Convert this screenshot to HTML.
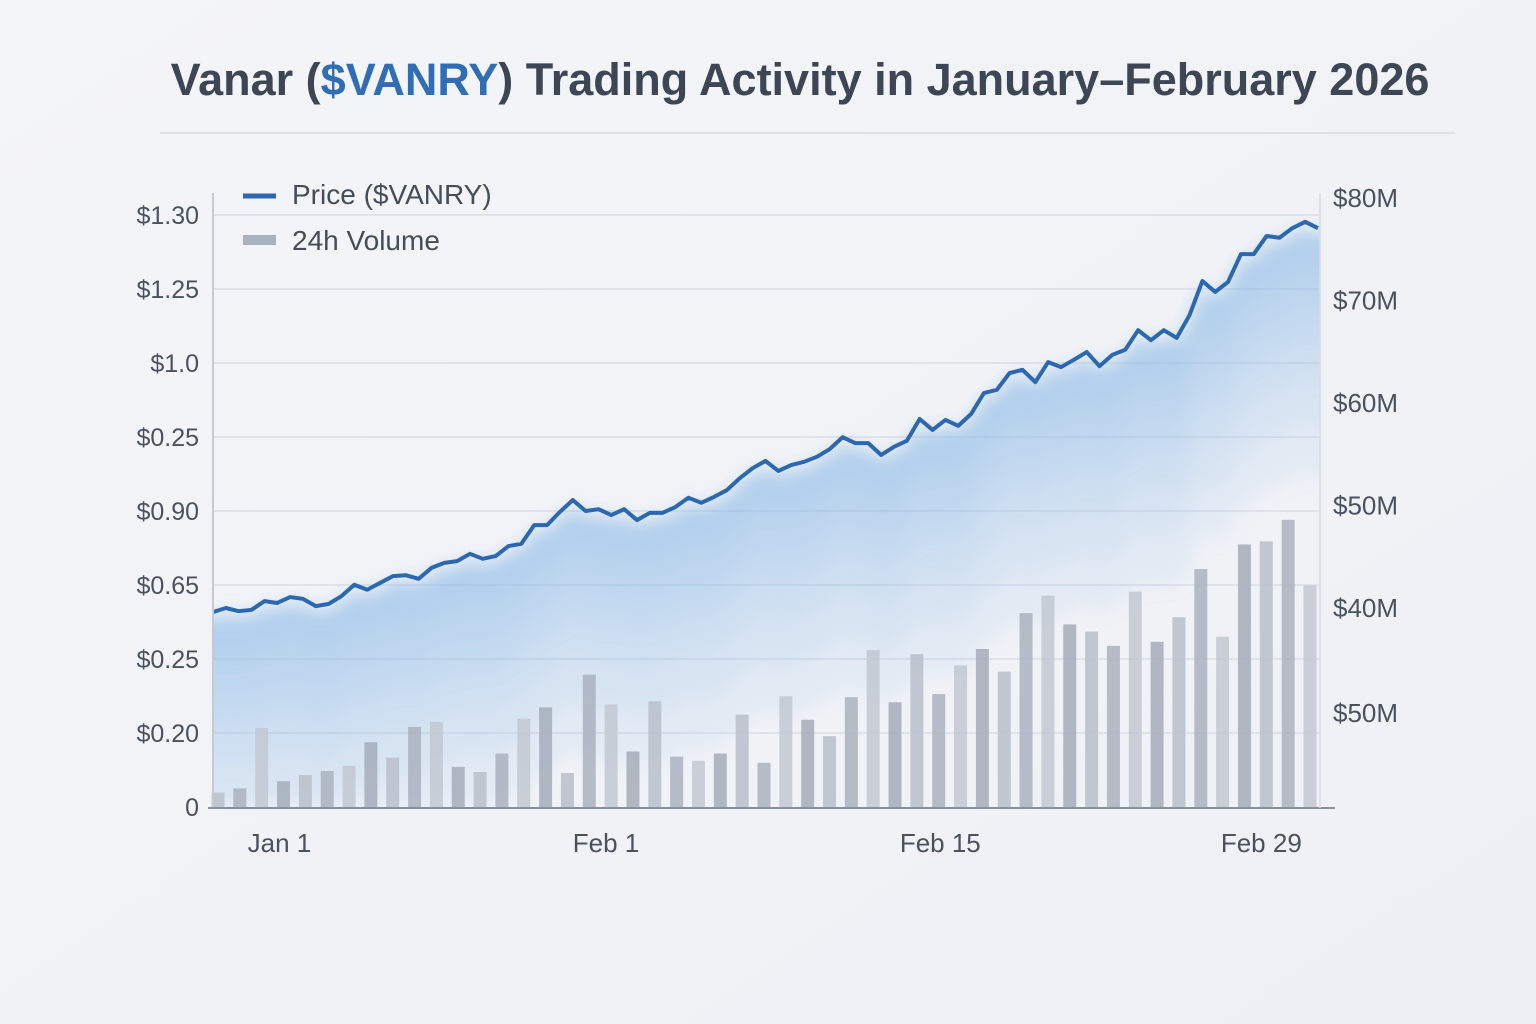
<!DOCTYPE html>
<html><head><meta charset="utf-8">
<style>
html,body{margin:0;padding:0;}
body{width:1536px;height:1024px;background:#f5f6f9;font-family:"Liberation Sans",sans-serif;overflow:hidden;}
svg{display:block;}
</style></head>
<body>
<svg id="chart" width="1536" height="1024" viewBox="0 0 1536 1024">
<defs>
<linearGradient id="bgGrad" x1="0" y1="0" x2="1" y2="1">
<stop offset="0" stop-color="#f4f5f8"/><stop offset="1" stop-color="#eef0f5"/>
</linearGradient>
<filter id="soft" x="-5%" y="-5%" width="110%" height="110%"><feGaussianBlur stdDeviation="9"/></filter>
<clipPath id="plotClip"><rect x="213" y="150" width="1107" height="658"/></clipPath>
</defs>
<rect x="0" y="0" width="1536" height="1024" fill="url(#bgGrad)"/>
<text x="800" y="95" text-anchor="middle" font-size="45" font-weight="bold" fill="#3d4654">Vanar (<tspan fill="#2f6db5">$VANRY</tspan>) Trading Activity in January–February 2026</text>
<line x1="160" y1="133" x2="1455" y2="133" stroke="#dde1e8" stroke-width="2"/>
<g id="grid"></g>
<g clip-path="url(#plotClip)"><g id="area" filter="url(#soft)"></g></g>
<g id="bars"></g>
<g id="line"></g>
<g id="axes"></g>
<g>
<line x1="243" y1="196" x2="276" y2="196" stroke="#2c68b0" stroke-width="5"/>
<text x="292" y="204" font-size="28" fill="#454d5a">Price ($VANRY)</text>
<rect x="243" y="235" width="33" height="10" fill="#aab2bf"/>
<text x="292" y="250" font-size="28" fill="#454d5a">24h Volume</text>
</g>
</svg>
<script>
const priceValues=[.428,.437,.430,.433,.452,.448,.461,.457,.441,.446,.463,.488,.477,.492,.507,.509,.501,.525,.536,.540,.556,.545,.551,.573,.578,.619,.619,.648,.674,.650,.654,.641,.654,.630,.646,.646,.659,.679,.668,.681,.696,.722,.744,.760,.738,.751,.758,.769,.786,.812,.799,.799,.773,.791,.804,.852,.828,.850,.837,.863,.909,.916,.953,.960,.933,.977,.966,.982,.999,.968,.993,1.004,1.047,1.025,1.047,1.030,1.080,1.155,1.131,1.153,1.214,1.214,1.254,1.250,1.271,1.285,1.271];
const volumeValues=[22.0,22.4,28.3,23.1,23.7,24.1,24.6,26.9,25.4,28.4,28.9,24.5,24.0,25.8,29.2,30.3,23.9,33.5,30.6,26.0,30.9,25.5,25.1,25.8,29.6,24.9,31.4,29.1,27.5,31.3,35.9,30.8,35.5,31.6,34.4,36.0,33.8,39.5,41.2,38.4,37.7,36.3,41.6,36.7,39.1,43.8,37.2,46.2,46.5,48.6,42.2];
const leftTickLabels=["0","$0.20","$0.25","$0.65","$0.90","$0.25","$1.0","$1.25","$1.30"];
const rightTickValues=[50,40,50,60,70,80];
const rightTickLabels=["$50M","$40M","$50M","$60M","$70M","$80M"];
const xTickLabels=["Jan 1","Feb 1","Feb 15","Feb 29"];
const xTickFractions=[0.06,0.355,0.657,0.947];

const NS="http://www.w3.org/2000/svg";
const X0=213,X1=1318,YB=807,YT=215;
function yPrice(v){return YB-(v/1.30)*(YB-YT);}
function xPrice(i){return X0+i*(X1-X0)/(priceValues.length-1);}
function yVol(v){return 198+(80-v)*10.25;}
function xBar(i){return 218+i*(1310-218)/(volumeValues.length-1);}
function mk(tag,attrs,parent){const e=document.createElementNS(NS,tag);for(const k in attrs)e.setAttribute(k,attrs[k]);parent.appendChild(e);return e;}
const grid=document.getElementById('grid'),axes=document.getElementById('axes');
leftTickLabels.forEach((t,i)=>{
  const y=YB-i*(YB-YT)/(leftTickLabels.length-1);
  if(i>0){const g=mk('line',{x1:X0,y1:y,x2:1320,y2:y,stroke:'#dadee6','stroke-width':1.5},grid);
  
  }
  const tx=mk('text',{x:199,y:y+9,'text-anchor':'end','font-size':25,fill:'#4a5260'},axes);
  tx.textContent=t;
  
  
});
rightTickValues.forEach((v,i)=>{
  const y=i===0?713:yVol(v);
  const tx=mk('text',{x:1333,y:y+9,'font-size':26,fill:'#4a5260'},axes);
  tx.textContent=rightTickLabels[i];
  
  
});
xTickLabels.forEach((t,i)=>{
  const x=X0+xTickFractions[i]*(1320-X0);
  const tx=mk('text',{x:x,y:852,'text-anchor':'middle','font-size':26,fill:'#4a5260'},axes);
  tx.textContent=t;
  
  
});
// area: stacked bands fading downward from the line, blurred
const areaG=document.getElementById('area');


let pts=priceValues.map((v,i)=>xPrice(i)+','+yPrice(v));
const topPts=priceValues.map((v,i)=>xPrice(i)+','+(yPrice(v)+6));
[25,50,80,115,155,200,250].forEach(d=>{
  const lower=priceValues.map((v,i)=>xPrice(i)+','+Math.min(YB,yPrice(v)+d)).reverse();
  const p=mk('polygon',{points:(X0-20)+','+(yPrice(priceValues[0])+6)+' '+topPts.join(' ')+' '+(X1+20)+','+(yPrice(priceValues[priceValues.length-1])+6)+' '+(X1+20)+','+Math.min(YB,yPrice(priceValues[priceValues.length-1])+d)+' '+lower.join(' ')+' '+(X0-20)+','+Math.min(YB,yPrice(priceValues[0])+d),fill:'#86b4e8','fill-opacity':0.12},areaG);
  
  
});
// bars
const shades=['#b9c0ca','#aab2be','#c2c8d1','#a4adba'];
volumeValues.forEach((v,i)=>{
  const y=yVol(v);
  const r=mk('rect',{x:xBar(i)-6.5,y:y,width:13,height:808-y,fill:shades[i%4],opacity:0.85},document.getElementById('bars'));
  
  
});
const pl=mk('polyline',{points:pts.join(' '),fill:'none',stroke:'#2c68b0','stroke-width':4,'stroke-linejoin':'round'},document.getElementById('line'));


const ay=mk('line',{x1:213,y1:193,x2:213,y2:808,stroke:'#c5cad3','stroke-width':2},axes);


const ax=mk('line',{x1:208,y1:808,x2:1335,y2:808,stroke:'#8a919c','stroke-width':2},axes);


const ar=mk('line',{x1:1320,y1:193,x2:1320,y2:808,stroke:'#d8dce3','stroke-width':1.5},axes);


</script>
</body></html>
